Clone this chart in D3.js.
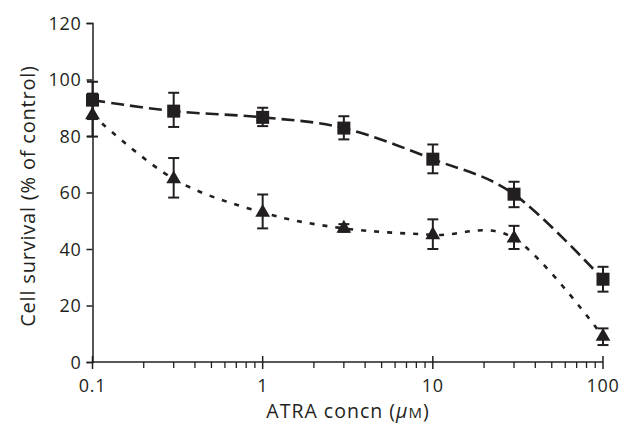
<!DOCTYPE html>
<html><head><meta charset="utf-8">
<script src="https://cdn.jsdelivr.net/npm/d3@7"></script>
<style>body{margin:0;background:#fff}svg{display:block}text{font-family:"Open Sans",sans-serif;fill:#231f20}</style>
</head><body><svg id="c" width="620" height="424"></svg>
<script>
const concentrations = [0.1, 0.3, 1, 3, 10, 30, 100];
const squareMean  = [92.7, 88.8, 86.6, 82.8, 71.8, 59.4, 29.3];
const squareHigh  = [99.2, 95.3, 90.0, 87.0, 77.0, 63.8, 33.7];
const squareLow   = [86.0, 83.2, 83.5, 78.8, 66.8, 54.8, 24.9];
const triangleMean = [87.4, 64.8, 52.9, 47.3, 45.0, 43.8, 9.0];
const triangleHigh = [95.0, 72.2, 59.3, 48.8, 50.5, 48.2, 11.9];
const triangleLow  = [79.8, 58.2, 47.3, 46.1, 40.0, 40.0, 6.0];
const yTicks = [0, 20, 40, 60, 80, 100, 120];
const xMajorTicks = [0.1, 1, 10, 100];
const xLabels = ["0.1", "1", "10", "100"];

const svg = d3.select("#c");
const ink = "#231f20";
const x = d3.scaleLog().domain([0.1, 100]).range([92.5, 603]);
const y = d3.scaleLinear().domain([0, 120]).range([362, 23]);

// minor ticks
const minor = [];
[0.1, 1, 10].forEach(d => { for (let k = 2; k <= 9; k++) minor.push(d * k); });

const gx = svg.append("g").attr("transform", "translate(0,362)");
gx.append("line").attr("x1", x(0.1)).attr("x2", x(100)).attr("stroke", ink).attr("stroke-width", 1.5);
gx.selectAll(".mn").data(minor).join("line").attr("x1", d => x(d)).attr("x2", d => x(d))
  .attr("y1", 0).attr("y2", 6).attr("stroke", ink).attr("stroke-width", 1.3);
gx.selectAll(".mj").data(xMajorTicks).join("line").attr("x1", d => x(d)).attr("x2", d => x(d))
  .attr("y1", -6).attr("y2", 7).attr("stroke", ink).attr("stroke-width", 1.5);
gx.selectAll(".lb").data(xMajorTicks).join("text").attr("x", d => x(d)).attr("y", 30)
  .attr("text-anchor", "middle").attr("font-size", 18).attr("letter-spacing", 0.7).text((d, i) => xLabels[i]);

const yAxis = d3.axisLeft(y).tickValues(yTicks).tickSize(6).tickPadding(5);
const gy = svg.append("g").attr("transform", `translate(${x(0.1)},0)`).call(yAxis);
gy.select(".domain").attr("stroke", ink).attr("stroke-width", 1.5);
gy.selectAll(".tick line").attr("stroke", ink).attr("stroke-width", 1.5);
gy.selectAll(".tick text").attr("font-size", 18).attr("letter-spacing", 0.7)
  .attr("font-family", "Open Sans, sans-serif").attr("fill", ink).attr("dy", "0.36em");

svg.append("text").attr("transform", "translate(35,196) rotate(-90)").attr("text-anchor", "middle")
  .attr("font-size", 20).attr("letter-spacing", 0.8).text("Cell survival (% of control)");
const xl = svg.append("text").attr("x", 348).attr("y", 418).attr("text-anchor", "middle")
  .attr("font-size", 19.5).attr("letter-spacing", 1);
xl.append("tspan").text("ATRA concn (");
xl.append("tspan").attr("font-style", "italic").text("\u03bc");
xl.append("tspan").attr("font-size", 15).text("M");
xl.append("tspan").text(")");

const line = d3.line().x(d => x(d[0])).y(d => y(d[1])).curve(d3.curveCardinal.tension(0));
const sqData = concentrations.map((c, i) => [c, squareMean[i]]);
const trData = concentrations.map((c, i) => [c, triangleMean[i]]);

svg.append("path").datum(sqData).attr("d", line).attr("fill", "none").attr("stroke", ink)
  .attr("stroke-width", 2.6).attr("stroke-dasharray", "13,6");
svg.append("path").datum(trData).attr("d", line).attr("fill", "none").attr("stroke", ink)
  .attr("stroke-width", 2.6).attr("stroke-dasharray", "5,8");

function errBars(hi, lo) {
  const g = svg.append("g").attr("stroke", ink).attr("stroke-width", 2);
  concentrations.forEach((c, i) => {
    const cx = x(c);
    g.append("line").attr("x1", cx).attr("x2", cx).attr("y1", y(hi[i])).attr("y2", y(lo[i]));
    g.append("line").attr("x1", cx - 5.5).attr("x2", cx + 5.5).attr("y1", y(hi[i])).attr("y2", y(hi[i]));
    g.append("line").attr("x1", cx - 5.5).attr("x2", cx + 5.5).attr("y1", y(lo[i])).attr("y2", y(lo[i]));
  });
}
errBars(squareHigh, squareLow);
errBars(triangleHigh, triangleLow);

svg.selectAll(".sq").data(sqData).join("rect").attr("x", d => x(d[0]) - 6.5).attr("y", d => y(d[1]) - 6.5)
  .attr("width", 13).attr("height", 13).attr("fill", ink);
const tri = d3.symbol().type(d3.symbolTriangle).size(95);
svg.selectAll(".tr").data(trData).join("path").attr("d", tri)
  .attr("transform", d => `translate(${x(d[0])},${y(d[1])})`).attr("fill", ink);
</script></body></html>
